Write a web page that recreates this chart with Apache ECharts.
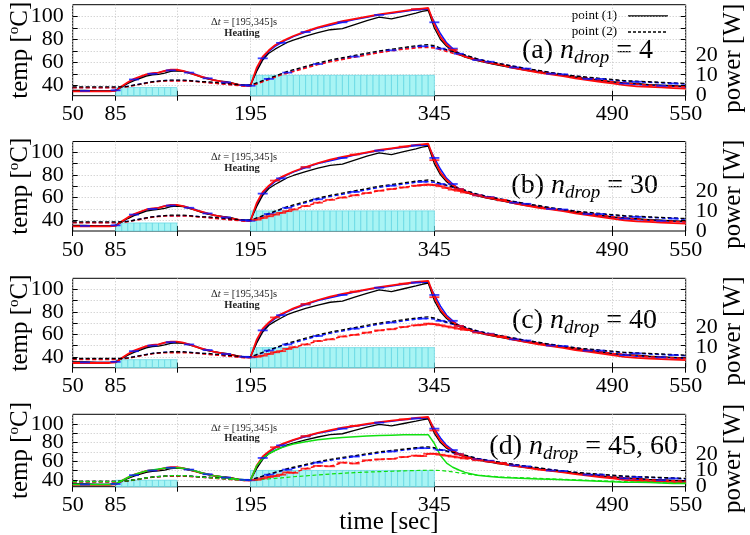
<!DOCTYPE html>
<html><head><meta charset="utf-8">
<script src="https://cdn.jsdelivr.net/npm/echarts@6/dist/echarts.min.js"></script>
<style>html,body{margin:0;padding:0;background:#fff}#c{width:750px;height:535px}</style>
</head><body><div id="c"></div>
<script>
// ---------------- data ----------------
const time = [50,60,70,80,85,90,95,100,105,110,115,120,125,130,135,140,145,150,155,160,165,170,175,180,185,190,195,200,205,210,215,220,225,230,240,250,260,270,280,290,300,310,320,330,335,340,345,350,355,360,365,370,380,390,400,410,420,430,440,450,460,470,480,490,500,510,520,530,540,550];
// point (1), experiment (black solid)
const p1Exp = [35.5,35.5,35,35,35.5,38.5,41.5,44,46,48,49,49.5,50.5,52,52.5,52,50.5,49,47,45.5,44.5,43.5,43,42,40.5,40,40,52,62,68,71.5,74.5,77.5,79.5,83,86,88.5,89.5,93,96.5,99.5,98,100.5,103,104.5,105.5,90,80,74,70,67,64.5,61.5,59,57,55,53,51.5,50,48.5,47,45.5,44.5,43,42,41.5,40.5,40,39.5,39];
// point (2), experiment (black dashed)
const p2Exp = [38.5,38.5,38.5,38.5,38.5,38.5,39,40,41,42,43,43.5,44,44.5,44.5,44.5,44,43.5,43,43,42.5,42,41.5,41,40.5,40,40,42,44,46,48,50,52,53.5,56.5,59.5,62,64,66,68,70,71.5,73,74.5,75,75.5,74.5,72.5,71,69.5,68,66.5,63,60.5,58.5,56.5,54.5,53,51,49.5,48,47,46,45,44,43.5,43,42.5,42,41.5];
// point (1), blue model
const p1Blue = [35,35,35,35,35.5,38.5,42,45,47,49,50,51,52.5,53,53,52.5,51,49.5,47.5,46,44.5,43.5,42.5,41.5,40.5,40,40,53,63.5,69.5,74,77,80,82.5,86.5,90,92.5,95,97.5,99.5,101.5,103,104.5,106,106.5,106,95,85,77,72,68,65.5,62,59.5,57.5,55.5,53.5,52,50,48.5,47,45.5,44,42.5,41.5,40.5,40,39.5,39,38.5];
// point (2), blue model
const p2Blue = [38,38,38,38,38,38.5,39,40,41,42,43,43.5,44,44,44,44,44,43.5,43,42.5,42,41.5,41,40.5,40,39.5,39.5,41.5,43.5,45.5,47.5,49.5,51,52.5,55.5,58.5,61,63,65,67,69,70.5,72,73.5,74,74,73.5,72,70.5,69,67.5,66,63,60.5,58.5,56.5,54.5,52.5,51,49.5,48,46.5,45.5,44.5,43.5,43,42.5,42,41.5,41];
// point (1), red model
const p1Red = [34.5,34.5,34.5,34.5,35,39,42.5,45.5,47.5,49.5,50.5,51,52.5,53.5,53.5,52.5,51,49,47.5,46,44.5,43.5,42.5,41.5,40.5,39.5,39.5,55,65,70.5,75,78,80.5,83,87,90.5,93.5,96,98,100,102,103.5,105,106.5,107,107.5,93,82,75.5,71,67.5,65,62,59.5,57.5,55,53,51,49.5,48,46,44.5,43,41.5,40,39,38.5,38,37.5,37];
// point (2), red model, one array per panel
const p2RedA = [37.7,37.7,37.7,37.7,37.7,38.2,38.7,39.7,40.7,41.7,42.7,43.2,43.7,43.7,43.7,43.7,43.7,43.2,42.7,42.2,41.7,41.2,40.7,40.2,39.7,39.2,39.2,41,43,45,47,49,50.5,52,55,58,60.5,62.5,64.5,66.5,68.5,70,71.5,72.5,73,73,72.5,71,69.5,68,66.5,65,62.5,60,58,56,54,52,50.5,49,47.5,46,44.5,43,42,41,40,39.5,39,38.5];
const p2RedB = [37.7,37.7,37.7,37.7,37.7,38.2,38.7,39.7,40.7,41.7,42.7,43.2,43.7,43.7,43.7,43.7,43.7,43.2,42.7,42.2,41.7,41.2,40.7,40.2,39.7,39.2,39.2,40.5,42,43.5,45,46.5,48,49.5,52.5,55.5,58,60,62,64,66,67.5,69,70.5,71,71.5,71,70,68.5,67,66,64.5,62,60,58,56,54,52,50.5,49,47.5,46,44.5,43,42,41,40,39.5,39,38.5];
const p2RedC = [37.7,37.7,37.7,37.7,37.7,38.2,38.7,39.7,40.7,41.7,42.7,43.2,43.7,43.7,43.7,43.7,43.7,43.2,42.7,42.2,41.7,41.2,40.7,40.2,39.7,39.2,39.2,40,41,42.5,44,45,47,48.5,51,54,55.5,58,59.5,61.5,63.5,64.5,66.5,68,68.5,69.5,69,68,67,66,65,64,61.5,60,58,56,54,52,50.5,49,47.5,46,44.5,43,42,41,40,39.5,39,38.5];
const p2RedD = [37.7,37.7,37.7,37.7,37.7,38.2,38.7,39.7,40.7,41.7,42.7,43.2,43.7,43.7,43.7,43.7,43.7,43.2,42.7,42.2,41.7,41.2,40.7,40.2,39.7,39.2,39.2,40,41.5,43,44,45.5,48,47.5,52,55,54.5,58.5,57.5,61,62,62.5,64.5,66,65.5,68,68,67,66,65,64,63,61,59.5,58,56,54,52,50.5,49,47.5,46,44.5,43,42,41,40,39.5,39,38.5];
// panel (d) only, green model
const p1Green = [35,35,35,35,35.5,39,42.5,45.5,47.5,49.5,50.5,51.5,52.5,53,53,52.5,51,49.5,47.5,46,44.5,43.5,42.5,41.5,40.5,40,39.5,55,63,68,71.5,74.5,76.5,78.5,81,83,84.5,85.5,86.3,87,87.5,88,88.3,88.5,88.5,88.5,79,66,58,53.5,50.5,48,45,43.5,42.5,42,41.5,41,40.5,40,39.5,39,38.5,38,37.5,37.5,37,36.5,36,36];
const p2Green = [38,38,38,38,38,38.5,39,40,41,42,43,43.5,44,44.5,44.5,44.5,44,43.5,43,42.5,42,41.5,41,40.5,40,39.5,39.5,40,40.5,41,41.5,42,42.7,43.3,44.3,45.3,46.2,47,47.7,48.3,48.8,49.2,49.6,50,50.2,50.3,50.3,50,49.3,48.5,47.5,46.5,45,44,43,42.5,42,41.5,41,40.5,40,39.5,39,38.5,38,37.5,37.5,37,36.5,36.5];
// heating power [W], each box starts at powerTime and lasts 5 s
const powerTime = [85,90,95,100,105,110,115,120,125,130,195,200,205,210,215,220,225,230,235,240,245,250,255,260,265,270,275,280,285,290,295,300,305,310,315,320,325,330,335,340];
const powerVal  = [4,4,4,4,4,4,4,4,4,4,10,10,10,10,10,10,10,10,10,10,10,10,10,10,10,10,10,10,10,10,10,10,10,10,10,10,10,10,10,10];
// ticks
const xTicks = [50,85,135,195,345,490,550];
const xLabels = [50,85,195,345,490,550];
const tempTicks = [40,50,60,70,80,90,100];
const tempLabelsA = [40,80];     // drawn on one axis
const tempLabelsB = [60,100];    // drawn on an overlaid twin axis (avoids automatic overlap hiding)
const powerLabelsA = [0,20];
const powerLabelsB = [10];
const panelTag = ['(a)','(b)','(c)','(d)'];
const panelNdrop = ['4','30','40','45, 60'];
const legendNames = ['point (1)', 'point (2)'];

// ---------------- layout / style ----------------
const FONT = '"Liberation Serif","DejaVu Serif",serif';
const G = [
  {top:4.7, height:91, tmin:30.8, tmax:110.4},
  {top:141.5, height:89.5, tmin:30.5, tmax:109.5},
  {top:278.3, height:89.4, tmin:30.3, tmax:109.8},
  {top:414.3, height:72.4, tmin:32.6, tmax:110.4}
];
const LEFT = 72.7, RIGHT = 64.3, PMAX = 44.5;
const BLUE = '#0a14ff', RED = '#ff0a0a', GREEN = '#10e010', CYAN = '#a8f4f4', CYANL = '#5fd6e2';
const redDashed = [p2RedA, p2RedB, p2RedC, p2RedD];

const pairs = v => time.map((t, i) => [t, v[i]]);
const pick = (v, step, from, lo, hi) => time.map((t, i) => [t, v[i], i])
  .filter(d => (d[2] - from) % step === 0 && d[0] >= lo && d[0] <= hi).map(d => [d[0], d[1]]);

const labelStyle = {color: '#000', fontFamily: FONT, fontSize: 22, hideOverlap: false};
const gridLine = {show: true, lineStyle: {color: '#c4c4c4', type: [1, 2], width: 1}};
const tickStyle = {show: true, inside: true, length: 5, lineStyle: {color: '#000'}};
const grid = [], xAxis = [], yAxis = [], series = [], graphic = [];
G.forEach((g, i) => {
  grid.push({left: LEFT, right: RIGHT, top: g.top, height: g.height, show: true,
    borderColor: '#000', borderWidth: 1, backgroundColor: 'transparent'});
  xAxis.push({gridIndex: i, type: 'value', position: 'bottom', min: 50, max: 550,
    axisLine: {show: false},
    axisTick: Object.assign({customValues: xTicks}, tickStyle),
    axisLabel: Object.assign({customValues: xLabels, margin: 8}, labelStyle),
    splitLine: gridLine});
});
// mirrored tick marks on the top border (xAxis 4-7)
G.forEach((g, i) => {
  xAxis.push({gridIndex: i, type: 'value', position: 'top', min: 50, max: 550,
    axisLine: {show: false}, axisLabel: {show: false}, splitLine: {show: false},
    axisTick: Object.assign({customValues: xTicks}, tickStyle)});
});
// temp axes (0-3) and twins (4-7)
G.forEach((g, i) => {
  yAxis.push({gridIndex: i, type: 'value', position: 'left', min: g.tmin, max: g.tmax,
    axisLine: {show: false},
    axisTick: Object.assign({customValues: tempTicks}, tickStyle),
    axisLabel: Object.assign({customValues: tempLabelsA, margin: 9}, labelStyle),
    splitLine: gridLine});
});
G.forEach((g, i) => {
  yAxis.push({gridIndex: i, type: 'value', position: 'left', offset: 0, min: g.tmin, max: g.tmax,
    axisLine: {show: false}, axisTick: {show: false}, splitLine: {show: false},
    axisLabel: Object.assign({customValues: tempLabelsB, margin: 9}, labelStyle)});
});
// power axes (8-11) and twins (12-15)
G.forEach((g, i) => {
  yAxis.push({gridIndex: i, type: 'value', position: 'right', min: 0, max: PMAX,
    axisLine: {show: false}, axisTick: {show: false}, splitLine: {show: false},
    axisLabel: Object.assign({customValues: powerLabelsA, margin: 10}, labelStyle)});
});
G.forEach((g, i) => {
  yAxis.push({gridIndex: i, type: 'value', position: 'right', offset: 0, min: 0, max: PMAX,
    axisLine: {show: false}, axisTick: {show: false}, splitLine: {show: false},
    axisLabel: Object.assign({customValues: powerLabelsB, margin: 10}, labelStyle)});
});
// mirrored temp tick marks on the right border (16-19)
G.forEach((g, i) => {
  yAxis.push({gridIndex: i, type: 'value', position: 'right', offset: 0, min: g.tmin, max: g.tmax,
    axisLine: {show: false}, axisLabel: {show: false}, splitLine: {show: false},
    axisTick: Object.assign({customValues: tempTicks}, tickStyle)});
});

function line(i, name, vals, color, width, dashed, z) {
  return {type: 'line', name, xAxisIndex: i, yAxisIndex: i, data: pairs(vals), symbol: 'none',
    lineStyle: {color, width, type: dashed ? [4, 2.5] : 'solid'}, itemStyle: {color},
    z, animation: false, silent: true};
}
function ticks(i, data, color, z) {
  return {type: 'scatter', xAxisIndex: i, yAxisIndex: i, data, symbol: 'rect', symbolSize: [10, 1.8],
    itemStyle: {color}, z, animation: false, silent: true};
}

G.forEach((g, i) => {
  series.push({type: 'custom', xAxisIndex: i, yAxisIndex: 8 + i, z: 1, animation: false, silent: true,
    data: powerTime.map((t, k) => [t, powerVal[k]]),
    renderItem: (params, api) => {
      const t = api.value(0), p = api.value(1);
      const a = api.coord([t, 0]), b = api.coord([t + 5, p]);
      return {type: 'rect', shape: {x: a[0], y: b[1], width: b[0] - a[0], height: a[1] - b[1]},
        style: {fill: CYAN, stroke: CYANL, lineWidth: 0.7}};
    }});
  series.push(line(i, 'b1' + i, p1Blue, BLUE, 1.5, false, 3));
  series.push(line(i, 'b2' + i, p2Blue, BLUE, 1.5, true, 3));
  series.push(line(i, i === 0 ? legendNames[0] : 'k1' + i, p1Exp, '#000', 1.3, false, 4));
  series.push(line(i, 'r1' + i, p1Red, RED, 1.8, false, 5));
  series.push(line(i, 'r2' + i, redDashed[i], RED, 1.5, true, 5));
  series.push(line(i, i === 0 ? legendNames[1] : 'k2' + i, p2Exp, '#000', 1.3, true, 6));
  if (i === 3) {
    series.push(line(i, 'g1', p1Green, GREEN, 1.5, false, 7));
    series.push(line(i, 'g2', p2Green, GREEN, 1.2, true, 7));
  }
  series.push(ticks(i, pick(p1Blue, 3, 4, 50, 550), BLUE, 8));
  series.push(ticks(i, pick(p2Blue, 3, 5, 195, 550), BLUE, 8));
  if (i > 0) {
    series.push(ticks(i, pick(redDashed[i], 1, 0, 200, 400), RED, 9));
    series.push(ticks(i, pick(p1Red, 4, 2, 200, 400), RED, 9));
  } else {
    series.push(ticks(i, pick(p1Red, 6, 1, 330, 360), RED, 9));
  }
});

// ---- texts ----
const ann = [[22, 33], [157, 168.5], [294, 305.5], [428, 438.5]];
const tagPos = [[653, 51], [658, 186], [657, 321], [678, 447]];
G.forEach((g, i) => {
  graphic.push({type: 'text', x: 244, y: ann[i][0], silent: true,
    style: {text: '{a|\u0394}{i|t}{a| = [195,345]s}', align: 'center', verticalAlign: 'middle',
      rich: {a: {fontFamily: FONT, fontSize: 10.5, fill: '#222'}, i: {fontFamily: FONT, fontSize: 10.5, fontStyle: 'italic', fill: '#222'}}}});
  graphic.push({type: 'text', x: 242, y: ann[i][1], silent: true,
    style: {text: 'Heating', align: 'center', verticalAlign: 'middle', fontFamily: FONT, fontSize: 10.5, fontWeight: 'bold', fill: '#222'}});
  graphic.push({type: 'text', x: tagPos[i][0], y: tagPos[i][1], silent: true,
    style: {text: '{m|' + panelTag[i] + ' }{i|n}{s|drop}{m| = ' + panelNdrop[i] + '}', align: 'right', verticalAlign: 'middle',
      rich: {m: {fontFamily: FONT, fontSize: 28, fill: '#000'},
             i: {fontFamily: FONT, fontSize: 28, fontStyle: 'italic', fill: '#000'},
             s: {fontFamily: FONT, fontSize: 19, fontStyle: 'italic', fill: '#000', padding: [14, 0, 0, 0]}}}});
  const cy = g.top + g.height / 2;
  graphic.push({type: 'text', x: 20, y: cy, rotation: Math.PI / 2, silent: true,
    style: {text: '{m|temp [}{o|o}{m|C]}', align: 'center', verticalAlign: 'middle',
      rich: {m: {fontFamily: FONT, fontSize: 25, fill: '#000'},
             o: {fontFamily: FONT, fontSize: 15, fill: '#000', padding: [0, 0, 12, 0]}}}});
  graphic.push({type: 'text', x: 733, y: cy + 8, rotation: Math.PI / 2, silent: true,
    style: {text: 'power [W]', align: 'center', verticalAlign: 'middle', fontFamily: FONT, fontSize: 25, fill: '#000'}});
});
graphic.push({type: 'text', x: 389, y: 522, silent: true,
  style: {text: 'time [sec]', align: 'center', verticalAlign: 'middle', fontFamily: FONT, fontSize: 25, fill: '#000'}});
// legend (drawn by hand so the key shows only the line style)
legendNames.forEach((nm, k) => {
  const y = 16 + 16 * k;
  graphic.push({type: 'text', x: 617, y, silent: true,
    style: {text: nm, align: 'right', verticalAlign: 'middle', fontFamily: FONT, fontSize: 13, fill: '#000'}});
  graphic.push({type: 'line', silent: true, shape: {x1: 628, y1: y, x2: 668, y2: y},
    style: {stroke: '#000', lineWidth: 1.4, lineDash: k ? [3, 2] : null}});
});

const chart = echarts.init(document.getElementById('c'), null, {renderer: 'canvas'});
chart.setOption({
  animation: false,
  backgroundColor: '#fff',
  grid, xAxis, yAxis, series, graphic
});
</script></body></html>
